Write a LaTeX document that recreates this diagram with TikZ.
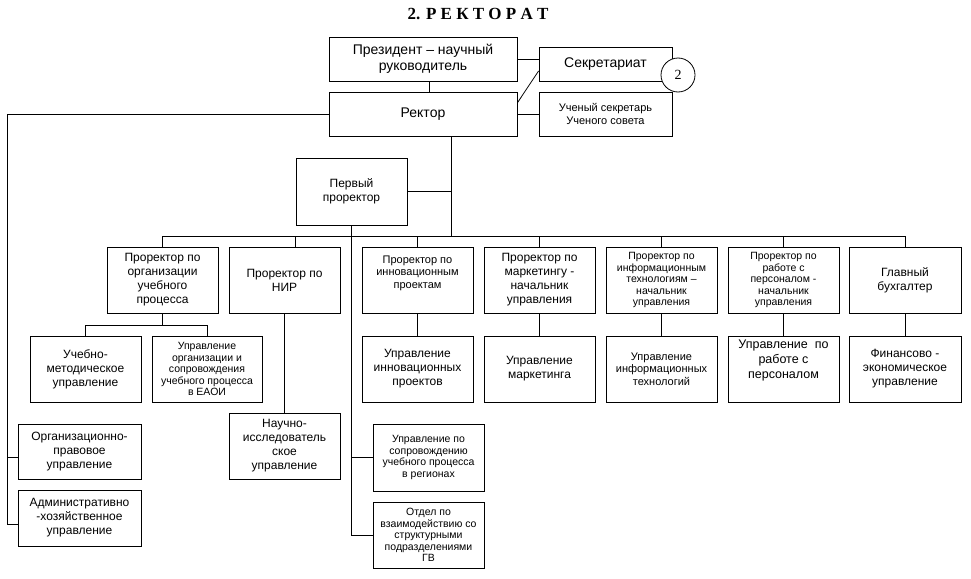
\documentclass[tikz,border=0pt]{standalone}
\usepackage{fontspec}
\setmainfont{Liberation Sans}
\newfontfamily\titlefont{Liberation Serif}
\usetikzlibrary{positioning,calc}
\newcommand\szL{\fontsize{14}{16}\selectfont}
\newcommand\szM{\fontsize{12}{14}\selectfont}
\newcommand\szS{\fontsize{11}{12.5}\selectfont}
\newcommand\szXS{\fontsize{10.5}{11.5}\selectfont}
\tikzset{every path/.style={line width=.8pt},
         box/.style={draw, rectangle, align=center, inner sep=1pt,
                     minimum width=111pt, minimum height=66pt, font=\szM},
         bigbox/.style={box, minimum width=188pt, minimum height=44pt, font=\szL}}

\begin{document}
\begin{tikzpicture}[x=1pt,y=-1pt]
  \useasboundingbox (0,0) rectangle (971,578);
  \node[font=\titlefont\bfseries\fontsize{17}{20}\selectfont] (title) at (478,14) {2. Р Е К Т О Р А Т};
  \node[bigbox] (pres) at (423,59) {Президент – научный\\руководитель};
  \node[bigbox] (rect) at (423,114) {Ректор};
  \node[box, minimum width=133pt, minimum height=34pt, font=\szL] (secr) at (605.5,64) {Секретариат};
  \node[box, minimum width=133pt, minimum height=44pt, font=\szS] (usec) at (605.5,114) {Ученый секретарь\\Ученого совета};
  \node[circle, draw, fill=white, minimum size=34pt, inner sep=0pt,
        font=\titlefont\fontsize{14}{16}\selectfont] (num) at (678,75) {2};
  \node[box, minimum height=67pt] (first) at (351.5,191.5) {Первый\\проректор};
  \node[box] (p1) at (162.5,280) {Проректор по\\организации\\учебного\\процесса};
  \node[box] (p2) at (284.5,280) {Проректор по\\НИР};
  \node[box, font=\szS] (p3) at (417.5,280) {Проректор по\\инновационным\\проектам\\ \strut};
  \node[box] (p4) at (539.5,280) {Проректор по\\маркетингу -\\начальник\\управления};
  \node[box, font=\szXS] (p5) at (661.5,280) {Проректор по\\информационным\\технологиям –\\начальник\\управления};
  \node[box, font=\szXS] (p6) at (783.5,280) {Проректор по\\работе с\\персоналом -\\начальник\\управления};
  \node[box, minimum width=112pt] (p7) at (905,280) {Главный\\бухгалтер};
  \node[box] (u1a) at (85.5,369) {Учебно-\\методическое\\управление};
  \node[box, minimum width=110pt, font=\szXS] (u1b) at (207,369) {Управление\\организации и\\сопровождения\\учебного процесса\\в ЕАОИ};
  \node[box] (u3) at (417.5,369) {Управление\\инновационных\\проектов};
  \node[box] (u4) at (539.5,369) {Управление\\маркетинга};
  \node[box, font=\szS] (u5) at (661.5,369) {Управление\\информационных\\технологий};
  \node[box, font=\fontsize{12.5}{15}\selectfont] (u6) at (783.5,369) {Управление~~по\\работе с\\персоналом\\ \strut};
  \node[box, minimum width=112pt] (u7) at (905,369) {Финансово -\\экономическое\\управление};
  \node[box] (nii) at (284.5,446) {Научно-\\исследователь\\ское\\управление};
  \node[box, minimum width=123pt, minimum height=55pt] (orgp) at (79.5,451.5) {Организационно-\\правовое\\управление};
  \node[box, minimum width=123pt, minimum height=56pt] (admin) at (79.5,518) {Административно\\-хозяйственное\\управление};
  \node[box, minimum height=67pt, font=\szXS] (sopr) at (428.5,457.5) {Управление по\\сопровождению\\учебного процесса\\в регионах};
  \node[box, font=\szXS] (otdel) at (428.5,535) {Отдел по\\взаимодействию со\\структурными\\подразделениями\\ГВ};
  \coordinate (lft) at (7,114);
  \coordinate (bus) at (451,236);
  \path ([xshift=6pt]pres.south) coordinate (pt)
        ([xshift=11pt]p2.north) coordinate (p2t)
        ([yshift=-5.5pt]orgp.west) coordinate (orgt)
        ([yshift=-6pt]admin.west) coordinate (admt)
        ($(p1.south)+(0,12)$) coordinate (p1b);
  \draw (pt) -- (pt |- rect.north);
  \draw (pres.east) -- (pres.east -| secr.west);
  \draw ($(rect.north east)!.25!(rect.south east)$) -- ($(secr.north west)!.7!(secr.south west)$);
  \draw (rect.east) -- (usec.west);
  \draw (rect.west) -- (lft) |- (admt);
  \draw (orgt) -| (lft);
  \draw (rect.south -| bus) -- (bus);
  \draw (first.east) -- (first.east -| bus);
  \draw (p1.north |- bus) -- (p7.north |- bus);
  \foreach \n in {p1,p3,p4,p5,p6,p7}
    \draw (\n.north |- bus) -- (\n.north);
  \draw (p2t |- bus) -- (p2t);
  \draw (first.south) |- (otdel.west);
  \draw (first.south |- sopr.west) -- (sopr.west);
  \draw (p1.south) -- (p1b);
  \draw (u1a.north) |- (p1b) -| (u1b.north);
  \draw (p2.south) -- (nii.north);
  \foreach \n in {3,...,7}
    \draw (p\n.south) -- (u\n.north);
\end{tikzpicture}
\end{document}
